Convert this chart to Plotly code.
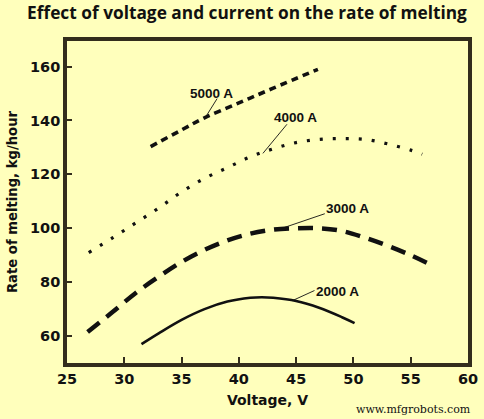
import plotly.graph_objects as go

# ---- data ----
v_2000 = [31.5, 33, 35, 37, 39, 41, 42, 43, 45, 47, 49, 50.1]
r_2000 = [57, 61, 66, 70, 72.8, 74.2, 74.4, 74.2, 73, 70.5, 67, 64.8]

v_3000 = [26.8, 29, 31, 33, 35, 37, 39, 41, 43, 45, 47, 49, 51, 53, 55, 56.6]
r_3000 = [61.5, 69, 76, 82, 87.5, 92, 95.5, 98, 99.5, 100, 100, 99, 96.5, 93.5, 90, 86.8]

v_4000 = [26.9, 29, 31, 33, 35, 37, 39, 41, 43, 45, 47, 49, 51, 53, 55, 56]
r_4000 = [91, 96.5, 102, 107.5, 113.5, 118.5, 122.5, 126.5, 129.5, 131.8, 133, 133.3, 133, 131.3, 129, 127.5]

v_5000 = [32.3, 35, 37, 40, 43, 46.9]
r_5000 = [130.3, 136.5, 141, 146.5, 152, 159]

labels = ["5000 A", "4000 A", "3000 A", "2000 A"]
label_v = [37.6, 44.9, 49.5, 48.6]
label_r = [150.2, 141.0, 107.4, 76.7]
# leader lines: (v0, r0, v1, r1)
leaders = [(38.1, 148.1, 37.1, 141.3),
           (44.2, 138.6, 42.1, 127.8),
           (47.5, 105.4, 43.7, 99.9),
           (46.6, 76.9, 44.7, 73.2)]

x_ticks = [25, 30, 35, 40, 45, 50, 55, 60]
y_ticks = [60, 80, 100, 120, 140, 160]

BG = "#FFFFBC"
INK = "#111111"
FRAME = "#332d1c"

W, H = 484, 419
ML, MR, MT, MB = 67, 16, 41, 56

fig = go.Figure()
fig.add_trace(go.Scatter(x=v_2000, y=r_2000, mode="lines", line=dict(color=INK, width=2.6, shape="spline"), showlegend=False))
fig.add_trace(go.Scatter(x=v_3000, y=r_3000, mode="lines", line=dict(color=INK, width=4.5, dash="15px,9px", shape="spline"), showlegend=False))
fig.add_trace(go.Scatter(x=v_4000, y=r_4000, mode="lines", line=dict(color=INK, width=3.2, dash="3px,10px", shape="spline"), showlegend=False))
fig.add_trace(go.Scatter(x=v_5000, y=r_5000, mode="lines", line=dict(color=INK, width=3.6, dash="7px,5px", shape="spline"), showlegend=False))

for t, vx, ry in zip(labels, label_v, label_r):
    fig.add_annotation(x=vx, y=ry, text="<b>%s</b>" % t, showarrow=False,
                       font=dict(family="Liberation Sans", size=13.5, color=INK))
for (a, b, c, d) in leaders:
    fig.add_shape(type="line", x0=a, y0=b, x1=c, y1=d, xref="x", yref="y",
                  line=dict(color=INK, width=0.9))

pw, ph = W - ML - MR, H - MT - MB
fig.add_annotation(x=(413 - ML) / pw, y=-(409 - (H - MB)) / ph, xref="paper", yref="paper",
                   xanchor="center", yanchor="middle",
                   text="www.mfgrobots.com", showarrow=False,
                   font=dict(family="DejaVu Serif", size=11, color=INK))

fig.update_layout(
    width=W, height=H,
    margin=dict(l=ML, r=MR, t=MT, b=MB, autoexpand=False),
    paper_bgcolor=BG, plot_bgcolor=BG,
    title=dict(text="<b>Effect of voltage and current on the rate of melting</b>",
               x=247 / W, xanchor="center", y=1 - 13 / H, yanchor="middle",
               font=dict(family="Open Sans", size=17.3, color=INK)),
)

fig.update_xaxes(range=[25, 60], tickvals=x_ticks, showgrid=False, zeroline=False, automargin=False,
                 showline=True, mirror=True, linecolor=FRAME, linewidth=3.7,
                 ticks="inside", ticklen=6, tickwidth=2, tickcolor=FRAME,
                 tickfont=dict(family="DejaVu Sans", size=14.5, color=INK, weight="bold"),
                 title=dict(text="<b>Voltage, V</b>", standoff=10,
                            font=dict(family="DejaVu Sans", size=14, color=INK)))
fig.update_yaxes(range=[50, 169.5], tickvals=y_ticks, showgrid=False, zeroline=False, automargin=False,
                 showline=True, mirror=True, linecolor=FRAME, linewidth=3.7,
                 ticks="inside", ticklen=5, tickwidth=2, tickcolor=FRAME,
                 tickfont=dict(family="DejaVu Sans", size=14.5, color=INK, weight="bold"),
                 title=dict(text="<b>Rate of melting, kg/hour</b>", standoff=10,
                            font=dict(family="DejaVu Sans", size=13.2, color=INK)))

fig.write_html("out.html", config={"displayModeBar": False},
               post_script="document.body.style.margin='0';document.body.style.background='%s';" % BG)
